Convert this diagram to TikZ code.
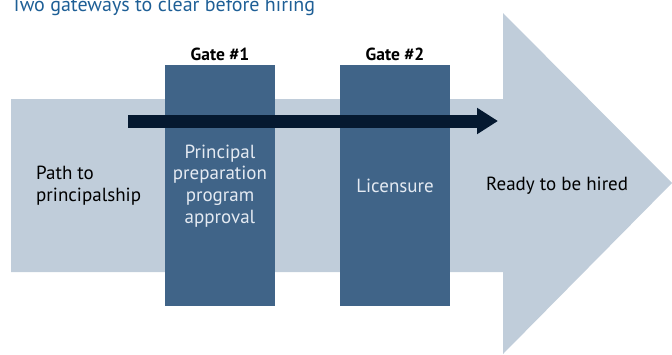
\documentclass[tikz,border=0pt]{standalone}
\usepackage{fontspec}
\setmainfont{PT Sans}
\usetikzlibrary{arrows.meta}
\definecolor{lightpath}{RGB}{192,205,218}
\definecolor{gatefill}{RGB}{64,100,136}
\definecolor{darkarrow}{RGB}{5,25,48}
\definecolor{titleblue}{RGB}{30,95,150}
\definecolor{gatetext}{RGB}{228,234,242}
\tikzset{
  gatebox/.style={fill=gatefill, draw=none, minimum width=110pt, minimum height=241pt, inner sep=0pt, anchor=north west},
  gatelabel/.style={font=\fontsize{17.5}{20}\selectfont\bfseries, text=black, anchor=base},
  bodytext/.style={font=\fontsize{19}{21.7}\selectfont, text=black, align=left, inner sep=0pt},
  gatebody/.style={font=\fontsize{19}{21.7}\selectfont, text=gatetext, align=center, inner sep=0pt},
}
\begin{document}
\begin{tikzpicture}[x=1pt,y=-1pt]
\useasboundingbox (0,0) rectangle (672,354);
% big light arrow
\fill[lightpath] (11,99) -- (503,99) -- (503,13) -- (672,183) -- (503,354) -- (503,272) -- (11,272) -- cycle;
% title
\node[anchor=base west, inner sep=0pt, font=\fontsize{20}{22}\selectfont, text=titleblue] (title) at (11,11.5) {Two gateways to clear before hiring};
% gates
\node[gatebox] (gate1) at (165,65) {};
\node[gatebox] (gate2) at (340,65) {};
\node[gatelabel] (g1lab) at (220,60) {Gate \#1};
\node[gatelabel] (g2lab) at (395,60) {Gate \#2};
% dark arrow
\coordinate (astart) at (128,121);
\coordinate (aend) at (498,121);
\draw[darkarrow, line width=13pt, -{Triangle[length=21pt,width=25pt]}] (astart) -- (aend);
% texts
\node[bodytext, anchor=west] (path) at (36,186) {Path to\\principalship};
\node[gatebody, anchor=center] (g1text) at (220,186) {Principal\\preparation\\program\\approval};
\node[gatebody, anchor=center] (g2text) at (395,186) {Licensure};
\node[bodytext, anchor=west] (ready) at (486,186) {Ready to be hired};
\end{tikzpicture}
\end{document}
